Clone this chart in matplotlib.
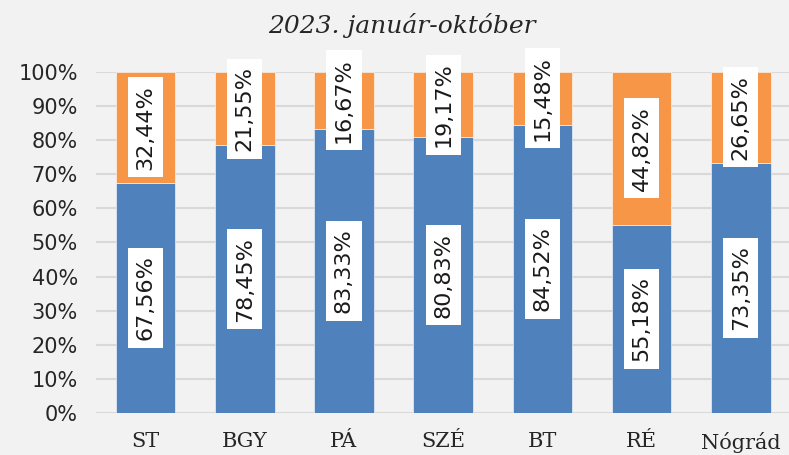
import numpy as np
import matplotlib
matplotlib.use("Agg")
import matplotlib.pyplot as plt

categories = ["ST", "BGY", "PÁ", "SZÉ", "BT", "RÉ", "Nógrád"]
blue_vals = [67.56, 78.45, 83.33, 80.83, 84.52, 55.18, 73.35]
orange_vals = [32.44, 21.55, 16.67, 19.17, 15.48, 44.82, 26.65]
yticks = [0, 10, 20, 30, 40, 50, 60, 70, 80, 90, 100]
title = "2023. január-október"

bg = "#F2F2F2"
blue = "#4F81BD"
orange = "#F79646"


def fmt(v):
    return f"{v:.2f}".replace(".", ",") + "%"


fig = plt.figure(figsize=(7.89, 4.55), dpi=100, facecolor=bg)
ax = fig.add_axes([0.1217, 0.0923, 0.88, 0.7495], facecolor=bg)

x = np.arange(len(categories))
ax.bar(x, blue_vals, width=0.6, color=blue, edgecolor="white",
       linewidth=0.4, zorder=2)
ax.bar(x, orange_vals, width=0.6, bottom=blue_vals, color=orange,
       edgecolor="white", linewidth=0.4, zorder=2)

box = dict(boxstyle="square,pad=0.34", facecolor="white", edgecolor="none")
for i in range(len(categories)):
    ax.text(x[i], blue_vals[i] / 2, fmt(blue_vals[i]), rotation=90,
            ha="center", va="center", fontsize=16, color="#1a1a1a",
            family="DejaVu Sans", bbox=box, zorder=3)
    ax.text(x[i], blue_vals[i] + orange_vals[i] / 2, fmt(orange_vals[i]),
            rotation=90, ha="center", va="center", fontsize=16,
            color="#1a1a1a", family="DejaVu Sans", bbox=box, zorder=3,
            clip_on=False)

ax.set_xlim(-0.5, len(categories) - 0.5)
ax.set_ylim(0, 100)
ax.set_yticks(yticks)
ax.set_yticklabels([f"{t}%" for t in yticks], fontsize=15,
                   family="DejaVu Sans", color="#262626")
ax.set_xticks(x)
ax.set_xticklabels(categories, fontsize=15, family="DejaVu Serif",
                   color="#262626")
ax.tick_params(axis="y", length=0, pad=13)
ax.tick_params(axis="x", length=0, pad=14)
ax.yaxis.grid(True, color="#D9D9D9", linewidth=1.5, zorder=0)
ax.set_axisbelow(True)
for s in ax.spines.values():
    s.set_visible(False)

fig.text(0.51, 0.945, title, ha="center", va="center", fontsize=18,
         family="DejaVu Serif", style="italic", color="#262626")

fig.savefig("out.png", dpi=100, facecolor=bg)
